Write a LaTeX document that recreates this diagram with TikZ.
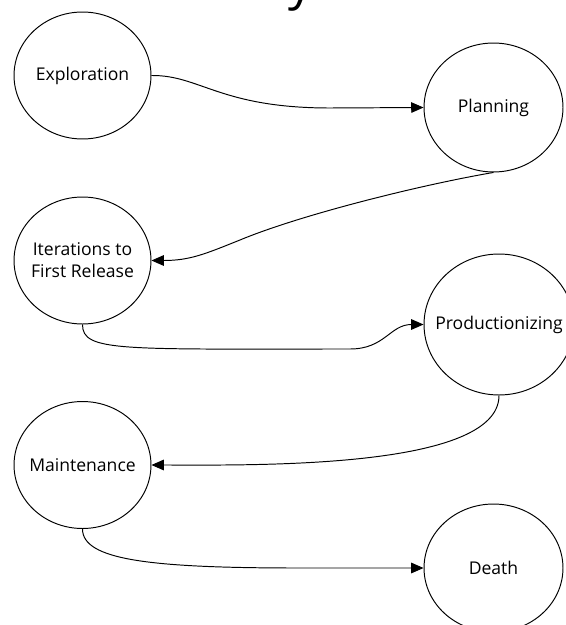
\documentclass[tikz,border=0pt]{standalone}
\usepackage{fontspec}
\setmainfont{Open Sans}
\usetikzlibrary{shapes.geometric,arrows.meta}

\begin{document}
\begin{tikzpicture}[x=0.02cm,y=-0.02cm,font=\fontsize{10}{12.5}\selectfont,
  phase/.style={draw,ellipse,line width=0.55pt,inner sep=0pt,
    minimum width=2.74cm,minimum height=2.54cm,
    label={[align=center]center:#1}},
  flow/.style={draw,line width=0.55pt,-{Triangle[length=7pt,width=6pt]}}]
\useasboundingbox (0,0) rectangle (565,625);
% title, mostly cut off at the top
\node[font=\fontsize{28}{34}\selectfont,anchor=base,inner sep=0pt] (title) at (301,0) {y};
% phases (fixed size, the text may run over the edge)
\node[phase={Exploration}] (explore) at (82.5,75.5) {};
\node[phase={Planning},minimum width=2.78cm,minimum height=2.58cm] (plan) at (493.5,107.5) {};
\node[phase={Iterations to\\First Release}] (iter) at (82.5,260.5) {};
\node[phase={Productionizing},minimum width=3cm,minimum height=2.82cm] (prod) at (499,324.5) {};
\node[phase={Maintenance}] (maint) at (82.5,465) {};
\node[phase={Death},minimum width=2.78cm,minimum height=2.56cm] (death) at (493.5,568) {};
% transitions
\draw[flow] (explore.east) .. controls (200,75) and (220,108) .. (330,108) -- (plan.west);
\draw[flow] (plan.south) .. controls (420,185) and (300,215) .. (240,240)
  .. controls (205,254) and (190,260.5) .. (iter.east);
\draw[flow] (iter.south) .. controls (82.5,352) and (120,349) .. (350,349)
  .. controls (385,349) and (390,324.5) .. (prod.west);
\draw[flow] (prod.south) .. controls (499,470) and (250,465) .. (maint.east);
\draw[flow] (maint.south) .. controls (82.5,560) and (150,568) .. (300,568) -- (death.west);
\end{tikzpicture}
\end{document}
